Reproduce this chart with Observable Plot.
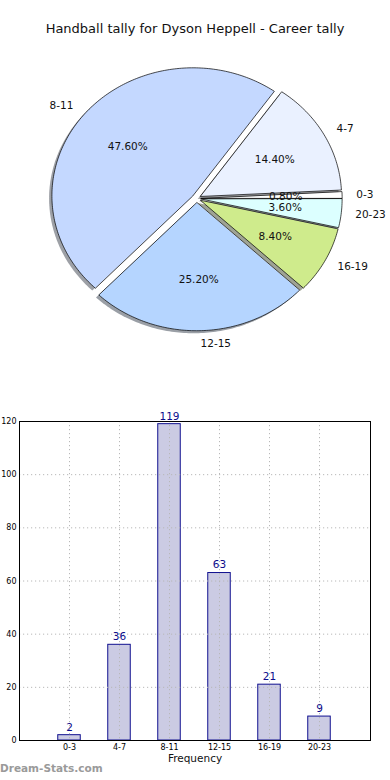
<!DOCTYPE html>
<html>
<head>
<meta charset="utf-8">
<script src="https://cdn.jsdelivr.net/npm/d3@7"></script>
<script src="https://cdn.jsdelivr.net/npm/@observablehq/plot@0.6"></script>
<style>
  html, body { margin: 0; padding: 0; background: #fff; }
  body { width: 390px; height: 780px; position: relative; overflow: hidden; font-family: "DejaVu Sans", sans-serif; }
  #title { position: absolute; left: 0; top: 21px; width: 390px; text-align: center; font-size: 13px; color: #111; }
  #pie { position: absolute; left: 0; top: 0; }
  #bars { position: absolute; left: 0; top: 400px; }
  #mark { position: absolute; left: 0; top: 762px; font-size: 10.5px; font-weight: bold; color: #9a9a9a; }
</style>
</head>
<body>
<div id="pie"></div>
<div id="title">Handball tally for Dyson Heppell - Career tally</div>
<div id="bars"></div>
<div id="mark">Dream-Stats.com</div>
<script>
// ---- data ----
const categories = ["0-3", "4-7", "8-11", "12-15", "16-19", "20-23"];
const counts = [2, 36, 119, 63, 21, 9];
const sliceColors = ["#ffffff", "#eaf1ff", "#c4d8ff", "#b5d5ff", "#cfeb8c", "#dcffff"];
const yTicks = [0, 20, 40, 60, 80, 100, 120];

// ---- pie geometry (in data units of a unit-radius pie) ----
const explode = 0.033;
const shadowOffset = 0.02;
const total = d3.sum(counts);
let cum = 0;
const slices = counts.map((c, i) => {
  const a0 = 360 * cum / total;
  cum += c;
  const a1 = 360 * cum / total;
  const mid = (a0 + a1) / 2 * Math.PI / 180;
  return {
    name: categories[i], count: c, color: sliceColors[i],
    a0, a1, mid,
    cx: explode * Math.cos(mid), cy: explode * Math.sin(mid),
    pct: (100 * c / total).toFixed(2) + "%"
  };
});
function wedgePoints(s, dx = 0, dy = 0) {
  const pts = [{x: s.cx + dx, y: s.cy + dy}];
  const n = Math.max(2, Math.ceil((s.a1 - s.a0) / 1));
  for (let k = 0; k <= n; k++) {
    const a = (s.a0 + (s.a1 - s.a0) * k / n) * Math.PI / 180;
    pts.push({x: s.cx + dx + Math.cos(a), y: s.cy + dy + Math.sin(a)});
  }
  return pts;
}
function darken(c) {
  const r = d3.rgb(c);
  return d3.rgb(r.r * 0.3, r.g * 0.3, r.b * 0.3).formatHex();
}

const pieMarks = [];
for (const s of slices) {
  pieMarks.push(Plot.line(wedgePoints(s, -shadowOffset, -shadowOffset), {
    x: "x", y: "y", curve: "linear-closed", fill: darken(s.color), fillOpacity: 0.5, stroke: "none"
  }));
}
for (const s of slices) {
  pieMarks.push(Plot.line(wedgePoints(s), {
    x: "x", y: "y", curve: "linear-closed", fill: s.color, stroke: "#000", strokeWidth: 0.7
  }));
}
const outerLabels = slices.map(s => ({
  name: s.name,
  x: s.cx + 1.1 * Math.cos(s.mid),
  y: s.cy + 1.1 * Math.sin(s.mid)
}));
pieMarks.push(Plot.text(outerLabels.filter(d => d.x > 0), {
  x: "x", y: "y", text: "name", textAnchor: "start", fontSize: 10.5, fill: "#111"
}));
pieMarks.push(Plot.text(outerLabels.filter(d => d.x <= 0), {
  x: "x", y: "y", text: "name", textAnchor: "end", fontSize: 10.5, fill: "#111"
}));
pieMarks.push(Plot.text(slices, {
  x: d => d.cx + 0.6 * Math.cos(d.mid),
  y: d => d.cy + 0.6 * Math.sin(d.mid),
  text: "pct", fontSize: 10.5, fill: "#111"
}));

const pieH = 400;
const pie = Plot.plot({
  width: 390, height: pieH,
  margin: 0,
  x: {domain: [-196 / 141, 194 / 141], range: [0, 390], axis: null},
  y: {domain: [-(pieH - 198) / 128, 198 / 128], range: [pieH, 0], axis: null},
  style: {fontFamily: "DejaVu Sans, sans-serif", background: "transparent"},
  marks: pieMarks
});
document.getElementById("pie").appendChild(pie);

// ---- bar chart ----
const barData = categories.map((c, i) => ({cat: c, i, count: counts[i]}));
const halfW = 0.225;
const bars = Plot.plot({
  width: 390, height: 380,
  marginTop: 21, marginBottom: 40, marginLeft: 19, marginRight: 20,
  x: {type: "linear", domain: [-1, 6.02]},
  y: {domain: [0, 120]},
  style: {fontFamily: "DejaVu Sans, sans-serif", background: "transparent"},
  marks: [
    Plot.rectY(barData, {
      x1: d => d.i - halfW, x2: d => d.i + halfW, y: "count",
      fill: "#cbcbe3", stroke: "#10108f", strokeWidth: 1
    }),
    Plot.ruleY(yTicks.slice(1, -1), {stroke: "#b8b8b8", strokeDasharray: "1.2,2.8", strokeWidth: 1}),
    Plot.ruleX(barData.map(d => d.i), {stroke: "#b8b8b8", strokeDasharray: "1.2,2.8", strokeWidth: 1}),
    Plot.frame({stroke: "#000", strokeWidth: 1}),
    Plot.text(barData, {
      x: "i", y: "count", text: d => String(d.count), dy: -8, fontSize: 10.5, fill: "#0c0c8c"
    }),
    Plot.axisY({ticks: yTicks, tickSize: 0, tickPadding: 3, fontSize: 8, label: null}),
    Plot.axisX({ticks: barData.map(d => d.i), tickFormat: i => categories[i], tickSize: 0, tickPadding: 4, fontSize: 8, label: null}),
    Plot.text(["Frequency"], {frameAnchor: "bottom", dy: 21, fontSize: 10.5, fill: "#111"})
  ]
});
document.getElementById("bars").appendChild(bars);
</script>
</body>
</html>
